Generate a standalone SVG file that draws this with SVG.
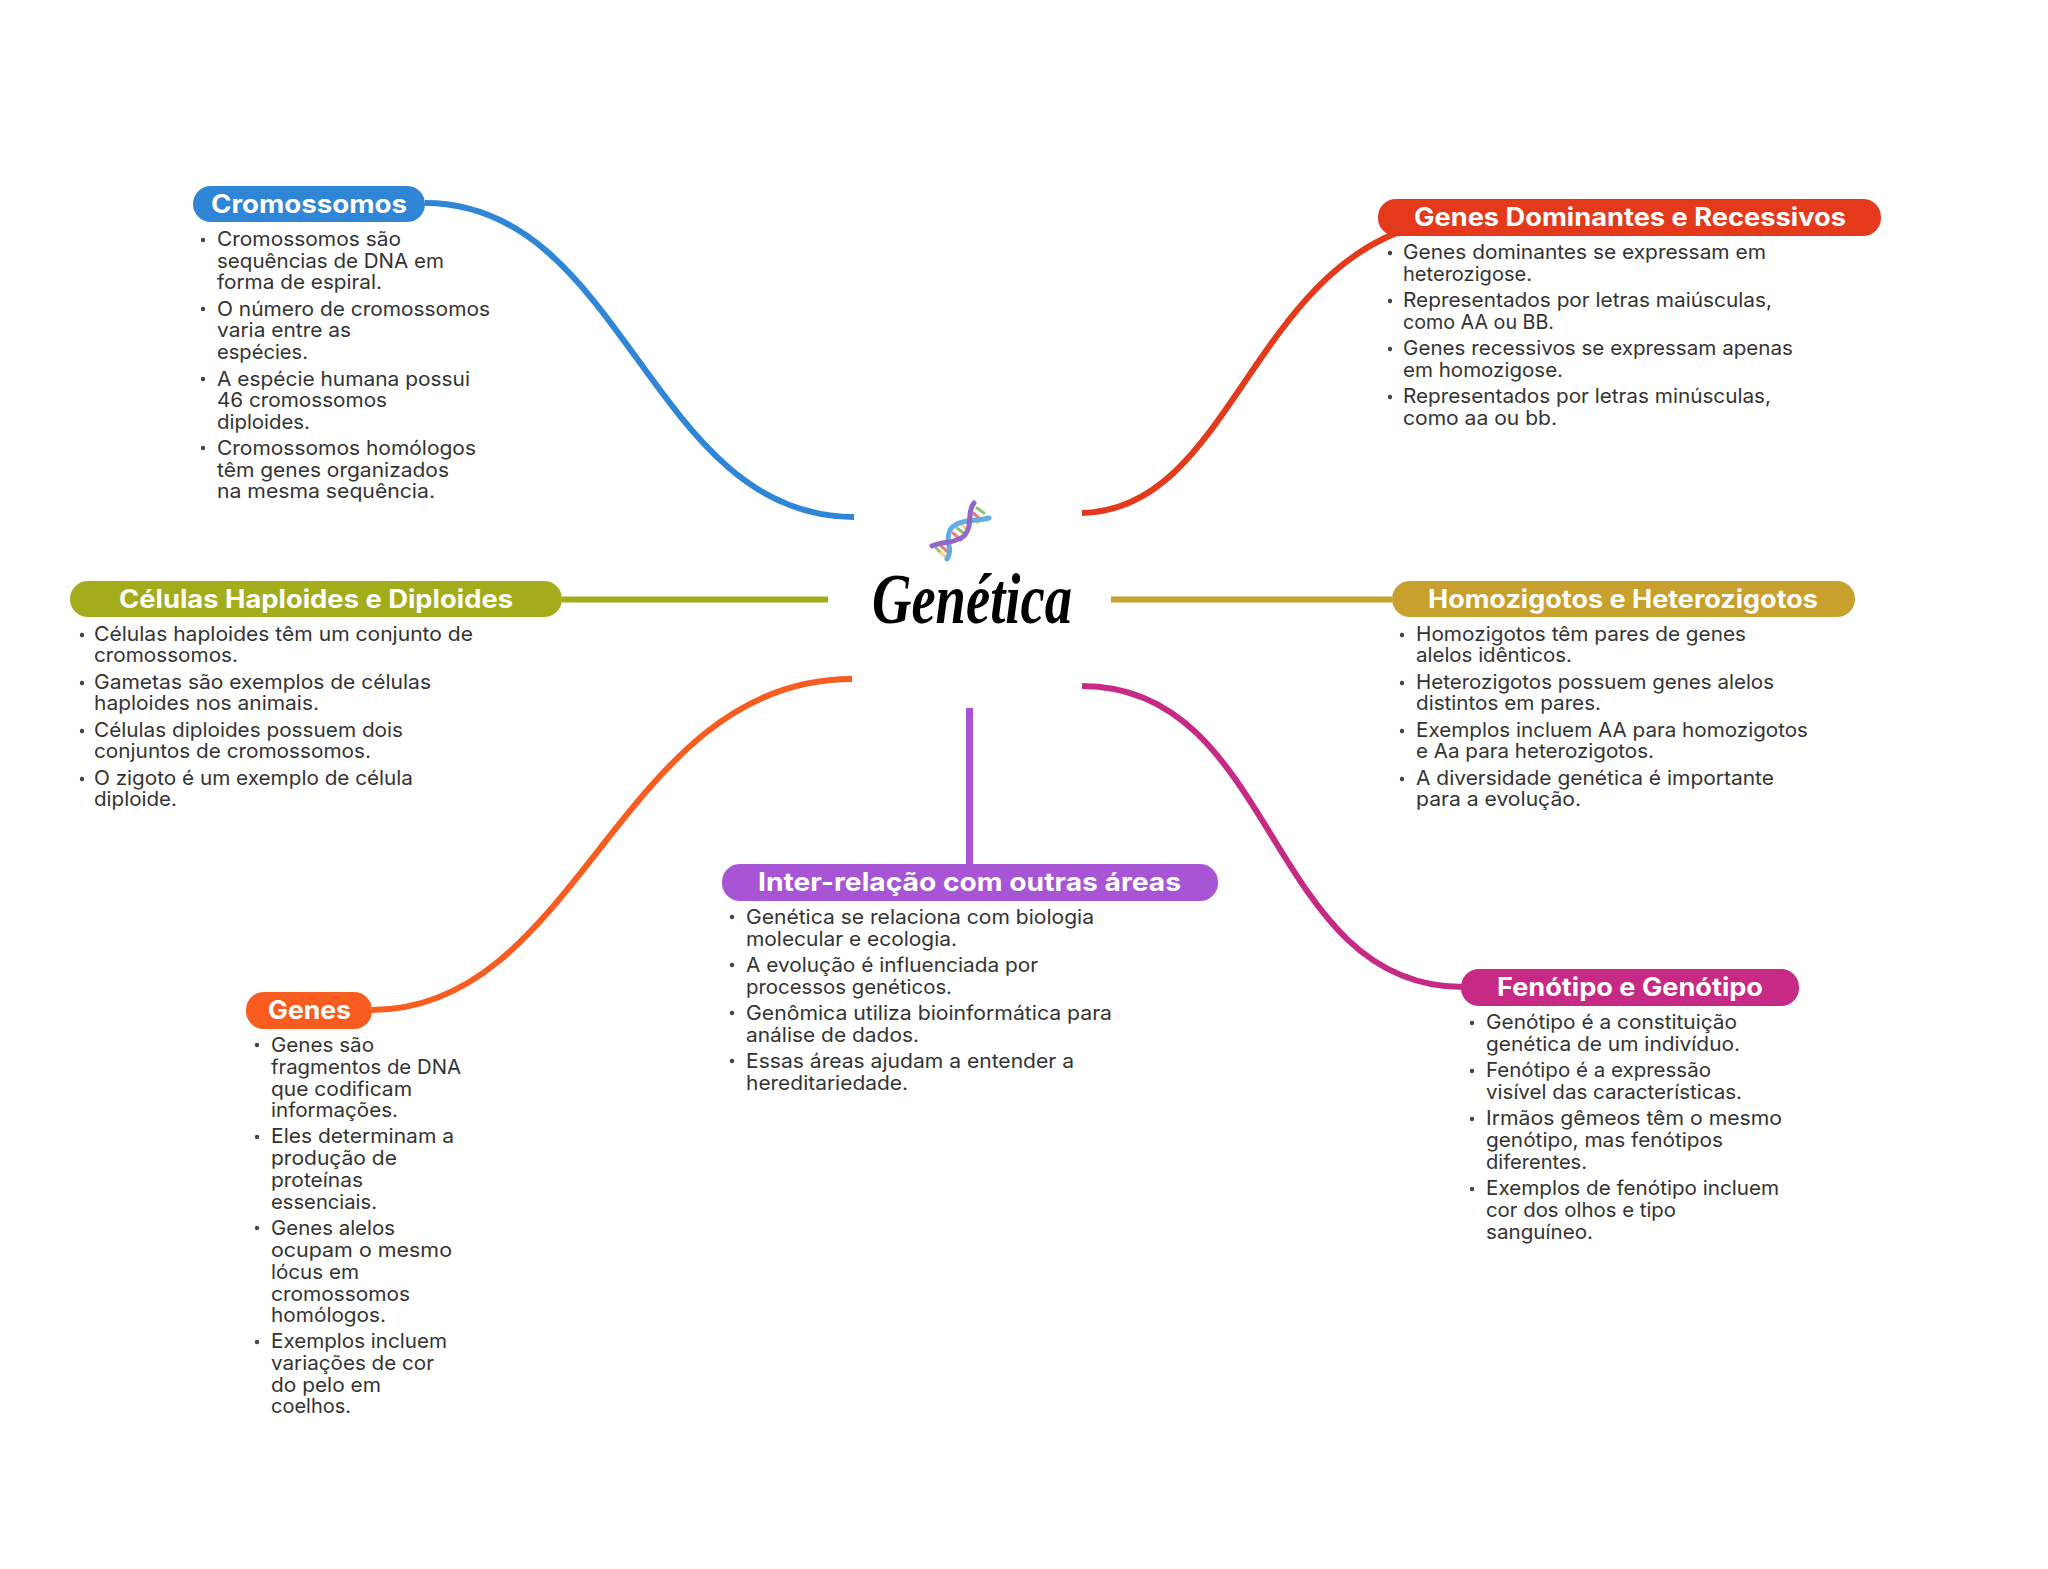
<svg xmlns="http://www.w3.org/2000/svg" width="2048" height="1569" viewBox="0 0 2048 1569">
<style>
.bg{fill:#fff}
.c{fill:none;stroke-width:6}
.t{font-family:Inter,"Open Sans","Liberation Sans",sans-serif;font-weight:700;font-size:25px;fill:#fff}
.b{font-family:Inter,"Open Sans","Liberation Sans",sans-serif;font-weight:400;font-size:20px;fill:#333}
.d{fill:#444}
.r{stroke-width:3;fill:none;stroke-linecap:round}
.title{font-family:"Liberation Serif",serif;font-style:italic;font-weight:700;font-size:72px;fill:#000}
</style>
<rect class="bg" width="2048" height="1569"/>
<g id="connectors">
<path class="c" stroke="#3086D6" d="M425,203 C625,203 650,517 854,517"/>
<path class="c" stroke="#E43A1B" d="M1082,513 C1230,510 1250,270 1420,225"/>
<path class="c" stroke="#A3AD1B" d="M562,599.5 H828"/>
<path class="c" stroke="#C8A02E" d="M1111,599.5 H1392"/>
<path class="c" stroke="#F85D1F" d="M372,1010 C580,1010 620,679 852,679"/>
<path class="c" stroke="#C72A84" d="M1082,686 C1278,686 1266,987 1463,987"/>
<path class="c" stroke="#A855D5" style="stroke-width:7" d="M969.5,708 V864"/>
</g>
<g id="center">
<g id="dna">
<path class="r" stroke="#8FC46A" d="M977,508 L984,513"/>
<path class="r" stroke="#EE7A7A" d="M973,513 L980,519"/>
<path class="r" stroke="#F5D58A" d="M970,517 L978,523"/>
<path class="r" stroke="#8FC46A" d="M957,528 L966,535"/>
<path class="r" stroke="#F5D58A" d="M962,525 L968,531"/>
<path class="r" stroke="#EE7A7A" d="M953,533 L961,540"/>
<path class="r" stroke="#8FC46A" d="M936,548 L942,554"/>
<path class="r" stroke="#EE7A7A" d="M941,546 L948,552"/>
<path class="r" stroke="#F5D58A" d="M941,553 L947,558"/>
<path fill="none" stroke="#62ADE6" stroke-width="5" stroke-linecap="round" d="M989,518 C975,522 958,518 950,530 C944,542 954,548 947,559"/>
<path fill="none" stroke="#9068C8" stroke-width="5" stroke-linecap="round" d="M974,503 C966,512 974,525 964,536 C955,544 942,541 932,546"/>
</g>
<text class="title" x="872" y="623" textLength="200" lengthAdjust="spacingAndGlyphs">Genética</text>
</g>
<g id="cromossomos">
<rect x="193" y="186" width="232" height="36" rx="18" fill="#3086D6"/>
<text class="t" x="211" y="213" textLength="196" lengthAdjust="spacingAndGlyphs">Cromossomos</text>
<circle class="d" cx="203" cy="240" r="2.2"/><circle class="d" cx="203" cy="309" r="2.2"/><circle class="d" cx="203" cy="379" r="2.2"/><circle class="d" cx="203" cy="448" r="2.2"/>
<text class="b" x="217" y="246" textLength="184" lengthAdjust="spacingAndGlyphs">Cromossomos são</text>
<text class="b" x="217" y="268" textLength="227" lengthAdjust="spacingAndGlyphs">sequências de DNA em</text>
<text class="b" x="217" y="289" textLength="165" lengthAdjust="spacingAndGlyphs">forma de espiral.</text>
<text class="b" x="217" y="316" textLength="273" lengthAdjust="spacingAndGlyphs">O número de cromossomos</text>
<text class="b" x="217" y="337" textLength="134" lengthAdjust="spacingAndGlyphs">varia entre as</text>
<text class="b" x="217" y="359" textLength="91" lengthAdjust="spacingAndGlyphs">espécies.</text>
<text class="b" x="217" y="386" textLength="253" lengthAdjust="spacingAndGlyphs">A espécie humana possui</text>
<text class="b" x="217" y="407" textLength="170" lengthAdjust="spacingAndGlyphs">46 cromossomos</text>
<text class="b" x="217" y="429" textLength="93" lengthAdjust="spacingAndGlyphs">diploides.</text>
<text class="b" x="217" y="455" textLength="259" lengthAdjust="spacingAndGlyphs">Cromossomos homólogos</text>
<text class="b" x="217" y="477" textLength="232" lengthAdjust="spacingAndGlyphs">têm genes organizados</text>
<text class="b" x="217" y="498" textLength="218" lengthAdjust="spacingAndGlyphs">na mesma sequência.</text>
</g>
<g id="dominantes">
<rect x="1378" y="199" width="503" height="37" rx="18" fill="#E43A1B"/>
<text class="t" x="1414" y="226" textLength="432" lengthAdjust="spacingAndGlyphs">Genes Dominantes e Recessivos</text>
<circle class="d" cx="1390" cy="253" r="2.2"/><circle class="d" cx="1390" cy="301" r="2.2"/><circle class="d" cx="1390" cy="349" r="2.2"/><circle class="d" cx="1390" cy="397" r="2.2"/>
<text class="b" x="1403" y="259" textLength="363" lengthAdjust="spacingAndGlyphs">Genes dominantes se expressam em</text>
<text class="b" x="1403" y="281" textLength="129" lengthAdjust="spacingAndGlyphs">heterozigose.</text>
<text class="b" x="1403" y="307" textLength="369" lengthAdjust="spacingAndGlyphs">Representados por letras maiúsculas,</text>
<text class="b" x="1403" y="329" textLength="151" lengthAdjust="spacingAndGlyphs">como AA ou BB.</text>
<text class="b" x="1403" y="355" textLength="390" lengthAdjust="spacingAndGlyphs">Genes recessivos se expressam apenas</text>
<text class="b" x="1403" y="377" textLength="160" lengthAdjust="spacingAndGlyphs">em homozigose.</text>
<text class="b" x="1403" y="403" textLength="368" lengthAdjust="spacingAndGlyphs">Representados por letras minúsculas,</text>
<text class="b" x="1403" y="425" textLength="154" lengthAdjust="spacingAndGlyphs">como aa ou bb.</text>
</g>
<g id="celulas">
<rect x="70" y="581" width="492" height="36" rx="18" fill="#A3AD1B"/>
<text class="t" x="119" y="608" textLength="394" lengthAdjust="spacingAndGlyphs">Células Haploides e Diploides</text>
<circle class="d" cx="82" cy="635" r="2.2"/><circle class="d" cx="82" cy="683" r="2.2"/><circle class="d" cx="82" cy="731" r="2.2"/><circle class="d" cx="82" cy="779" r="2.2"/>
<text class="b" x="94" y="641" textLength="379" lengthAdjust="spacingAndGlyphs">Células haploides têm um conjunto de</text>
<text class="b" x="94" y="662" textLength="144" lengthAdjust="spacingAndGlyphs">cromossomos.</text>
<text class="b" x="94" y="689" textLength="337" lengthAdjust="spacingAndGlyphs">Gametas são exemplos de células</text>
<text class="b" x="94" y="710" textLength="225" lengthAdjust="spacingAndGlyphs">haploides nos animais.</text>
<text class="b" x="94" y="737" textLength="309" lengthAdjust="spacingAndGlyphs">Células diploides possuem dois</text>
<text class="b" x="94" y="758" textLength="277" lengthAdjust="spacingAndGlyphs">conjuntos de cromossomos.</text>
<text class="b" x="94" y="785" textLength="319" lengthAdjust="spacingAndGlyphs">O zigoto é um exemplo de célula</text>
<text class="b" x="94" y="806" textLength="83" lengthAdjust="spacingAndGlyphs">diploide.</text>
</g>
<g id="homozigotos">
<rect x="1392" y="581" width="463" height="36" rx="18" fill="#C8A02E"/>
<text class="t" x="1428" y="608" textLength="390" lengthAdjust="spacingAndGlyphs">Homozigotos e Heterozigotos</text>
<circle class="d" cx="1402" cy="635" r="2.2"/><circle class="d" cx="1402" cy="683" r="2.2"/><circle class="d" cx="1402" cy="731" r="2.2"/><circle class="d" cx="1402" cy="779" r="2.2"/>
<text class="b" x="1416" y="641" textLength="330" lengthAdjust="spacingAndGlyphs">Homozigotos têm pares de genes</text>
<text class="b" x="1416" y="662" textLength="156" lengthAdjust="spacingAndGlyphs">alelos idênticos.</text>
<text class="b" x="1416" y="689" textLength="358" lengthAdjust="spacingAndGlyphs">Heterozigotos possuem genes alelos</text>
<text class="b" x="1416" y="710" textLength="185" lengthAdjust="spacingAndGlyphs">distintos em pares.</text>
<text class="b" x="1416" y="737" textLength="392" lengthAdjust="spacingAndGlyphs">Exemplos incluem AA para homozigotos</text>
<text class="b" x="1416" y="758" textLength="238" lengthAdjust="spacingAndGlyphs">e Aa para heterozigotos.</text>
<text class="b" x="1416" y="785" textLength="358" lengthAdjust="spacingAndGlyphs">A diversidade genética é importante</text>
<text class="b" x="1416" y="806" textLength="165" lengthAdjust="spacingAndGlyphs">para a evolução.</text>
</g>
<g id="interrelacao">
<rect x="722" y="864" width="496" height="37" rx="18" fill="#A855D5"/>
<text class="t" x="758" y="891" textLength="423" lengthAdjust="spacingAndGlyphs">Inter-relação com outras áreas</text>
<circle class="d" cx="732" cy="917" r="2.2"/><circle class="d" cx="732" cy="965" r="2.2"/><circle class="d" cx="732" cy="1013" r="2.2"/><circle class="d" cx="732" cy="1061" r="2.2"/>
<text class="b" x="746" y="924" textLength="348" lengthAdjust="spacingAndGlyphs">Genética se relaciona com biologia</text>
<text class="b" x="746" y="946" textLength="211" lengthAdjust="spacingAndGlyphs">molecular e ecologia.</text>
<text class="b" x="746" y="972" textLength="292" lengthAdjust="spacingAndGlyphs">A evolução é influenciada por</text>
<text class="b" x="746" y="994" textLength="206" lengthAdjust="spacingAndGlyphs">processos genéticos.</text>
<text class="b" x="746" y="1020" textLength="366" lengthAdjust="spacingAndGlyphs">Genômica utiliza bioinformática para</text>
<text class="b" x="746" y="1042" textLength="173" lengthAdjust="spacingAndGlyphs">análise de dados.</text>
<text class="b" x="746" y="1068" textLength="328" lengthAdjust="spacingAndGlyphs">Essas áreas ajudam a entender a</text>
<text class="b" x="746" y="1090" textLength="162" lengthAdjust="spacingAndGlyphs">hereditariedade.</text>
</g>
<g id="fenotipo">
<rect x="1461" y="969" width="338" height="37" rx="18" fill="#C72A84"/>
<text class="t" x="1497" y="996" textLength="266" lengthAdjust="spacingAndGlyphs">Fenótipo e Genótipo</text>
<circle class="d" cx="1472" cy="1023" r="2.2"/><circle class="d" cx="1472" cy="1071" r="2.2"/><circle class="d" cx="1472" cy="1119" r="2.2"/><circle class="d" cx="1472" cy="1189" r="2.2"/>
<text class="b" x="1486" y="1029" textLength="251" lengthAdjust="spacingAndGlyphs">Genótipo é a constituição</text>
<text class="b" x="1486" y="1051" textLength="254" lengthAdjust="spacingAndGlyphs">genética de um indivíduo.</text>
<text class="b" x="1486" y="1077" textLength="225" lengthAdjust="spacingAndGlyphs">Fenótipo é a expressão</text>
<text class="b" x="1486" y="1099" textLength="256" lengthAdjust="spacingAndGlyphs">visível das características.</text>
<text class="b" x="1486" y="1125" textLength="296" lengthAdjust="spacingAndGlyphs">Irmãos gêmeos têm o mesmo</text>
<text class="b" x="1486" y="1147" textLength="237" lengthAdjust="spacingAndGlyphs">genótipo, mas fenótipos</text>
<text class="b" x="1486" y="1169" textLength="101" lengthAdjust="spacingAndGlyphs">diferentes.</text>
<text class="b" x="1486" y="1195" textLength="293" lengthAdjust="spacingAndGlyphs">Exemplos de fenótipo incluem</text>
<text class="b" x="1486" y="1217" textLength="190" lengthAdjust="spacingAndGlyphs">cor dos olhos e tipo</text>
<text class="b" x="1486" y="1239" textLength="107" lengthAdjust="spacingAndGlyphs">sanguíneo.</text>
</g>
<g id="genes">
<rect x="246" y="992" width="126" height="37" rx="18" fill="#F85D1F"/>
<text class="t" x="268" y="1019" textLength="83" lengthAdjust="spacingAndGlyphs">Genes</text>
<circle class="d" cx="257" cy="1045" r="2.2"/><circle class="d" cx="257" cy="1137" r="2.2"/><circle class="d" cx="257" cy="1228" r="2.2"/><circle class="d" cx="257" cy="1342" r="2.2"/>
<text class="b" x="271" y="1052" textLength="103" lengthAdjust="spacingAndGlyphs">Genes são</text>
<text class="b" x="271" y="1074" textLength="190" lengthAdjust="spacingAndGlyphs">fragmentos de DNA</text>
<text class="b" x="271" y="1096" textLength="141" lengthAdjust="spacingAndGlyphs">que codificam</text>
<text class="b" x="271" y="1117" textLength="127" lengthAdjust="spacingAndGlyphs">informações.</text>
<text class="b" x="271" y="1143" textLength="183" lengthAdjust="spacingAndGlyphs">Eles determinam a</text>
<text class="b" x="271" y="1165" textLength="126" lengthAdjust="spacingAndGlyphs">produção de</text>
<text class="b" x="271" y="1187" textLength="92" lengthAdjust="spacingAndGlyphs">proteínas</text>
<text class="b" x="271" y="1209" textLength="106" lengthAdjust="spacingAndGlyphs">essenciais.</text>
<text class="b" x="271" y="1235" textLength="124" lengthAdjust="spacingAndGlyphs">Genes alelos</text>
<text class="b" x="271" y="1257" textLength="181" lengthAdjust="spacingAndGlyphs">ocupam o mesmo</text>
<text class="b" x="271" y="1279" textLength="88" lengthAdjust="spacingAndGlyphs">lócus em</text>
<text class="b" x="271" y="1301" textLength="139" lengthAdjust="spacingAndGlyphs">cromossomos</text>
<text class="b" x="271" y="1322" textLength="115" lengthAdjust="spacingAndGlyphs">homólogos.</text>
<text class="b" x="271" y="1348" textLength="176" lengthAdjust="spacingAndGlyphs">Exemplos incluem</text>
<text class="b" x="271" y="1370" textLength="163" lengthAdjust="spacingAndGlyphs">variações de cor</text>
<text class="b" x="271" y="1392" textLength="110" lengthAdjust="spacingAndGlyphs">do pelo em</text>
<text class="b" x="271" y="1413" textLength="80" lengthAdjust="spacingAndGlyphs">coelhos.</text>
</g>
</svg>
